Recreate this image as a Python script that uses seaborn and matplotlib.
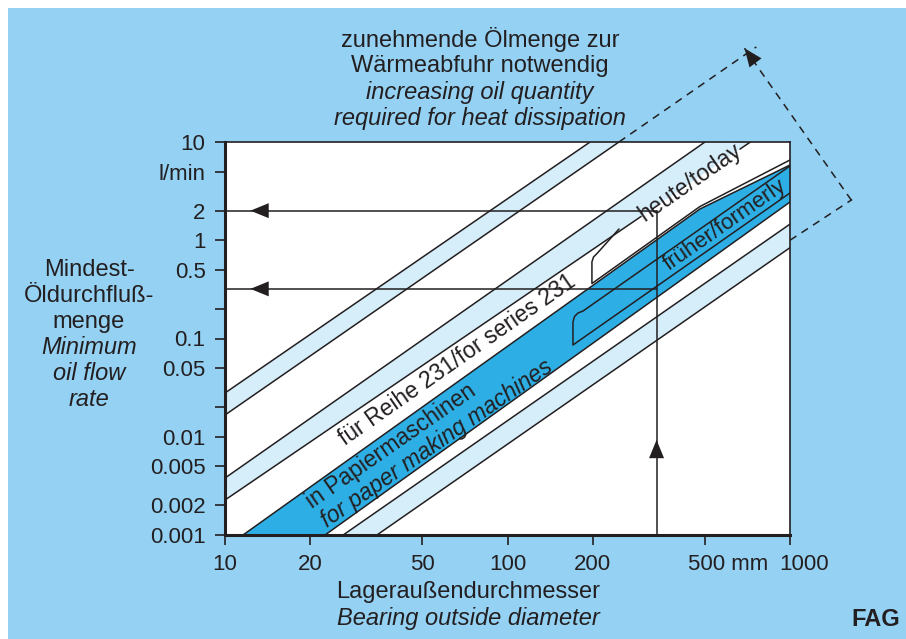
import numpy as np
import pandas as pd
import matplotlib
matplotlib.use("Agg")
import matplotlib.pyplot as plt
import seaborn as sns
from matplotlib.patches import Rectangle
from matplotlib.transforms import ScaledTranslation

# ---- data -------------------------------------------------------------
# Band edges as (bearing outside diameter D in mm, oil flow Q in l/min) points;
# every edge is straight on the log-log grid (Q roughly ~ D^2).
a_upper_d, a_upper_q = [10, 196], [0.0279, 10.0]
a_lower_d, a_lower_q = [10, 248], [0.01665, 10.0]
b_upper_d, b_upper_q = [10, 500], [0.0038, 10.0]
b_lower_d, b_lower_q = [10, 724], [0.00227, 10.0]
c_upper_d, c_upper_q = [26.2, 1000], [0.001, 1.46]
c_lower_d, c_lower_q = [34.5, 1000], [0.001, 0.84]
# paper machine band (dark); its upper edge flattens above D = 480 mm
p_upper_d, p_upper_q = [11.58, 480, 1000], [0.001, 2.08, 5.83]
p_lower_d, p_lower_q = [22.6, 1000], [0.001, 2.45]

# "heute/today" bracket (series 231, D >= 200 mm)
today_d = [1000, 480, 199, 199, 201.6, 207.4, 248.1]
today_q = [6.56, 2.205, 0.3628, 0.6006, 0.6753, 0.7329, 1.302]
# "früher/formerly" frame inside the paper machine band (D >= 170 mm)
former_d = [1000, 170.5, 170.5, 172.7, 177.7, 185.1, 1000]
former_q = [3.03, 0.0859, 0.1472, 0.1675, 0.1818, 0.1905, 5.70]
# span of the "heute/today" label on the lower edge of band B
today_label_d = [297, 665]

# example read-off: bearing diameter and the two flow rates
example_d = 337
example_q = [2.0, 0.32]

# dashed guide outside the frame and the "increasing" arrow
guide_upper_d, guide_upper_q = [248, 760], [10.0, 92.9]
guide_lower_d, guide_lower_q = [1000, 1660], [1.0, 2.6]
guide_arrow_d, guide_arrow_q = [1650, 690], [2.55, 90.0]

x_ticks = [10, 20, 50, 100, 200, 500, 1000]
x_tick_labels = ["10", "20", "50", "100", "200", "500 mm", "1000"]
y_ticks = [10, 5, 2, 1, 0.5, 0.2, 0.1, 0.05, 0.02, 0.01, 0.005, 0.002, 0.001]
y_tick_labels = ["10", "l/min", "2", "1", "0.5", "", "0.1", "0.05", "",
                 "0.01", "0.005", "0.002", "0.001"]

PANEL = "#94D1F3"
LIGHT = "#D6EDFA"
DARK = "#2DAFE6"
INK = "#231F20"

# ---- style ------------------------------------------------------------
sns.set_theme(style="white")
plt.rcParams["font.family"] = ["Liberation Sans", "DejaVu Sans"]
plt.rcParams["text.color"] = INK

W, H = 906, 639
fig = plt.figure(figsize=(W / 100, H / 100), dpi=100, facecolor="white")
fig.patches.append(Rectangle((8 / W, 0), 1, (H - 8) / H, transform=fig.transFigure,
                             facecolor=PANEL, edgecolor="none", zorder=-5))

ax = fig.add_axes([225 / W, 1 - 535 / H, 565 / W, 393 / H])
ax.set_zorder(2)
ax.set_facecolor("white")
ax.set_xscale("log")
ax.set_yscale("log")
ax.set_xlim(10, 1000)
ax.set_ylim(0.001, 10)


def band(ud, uq, ld, lq, color):
    """Fill the area between an upper and a lower edge."""
    ax.fill(list(ud) + list(ld)[::-1], list(uq) + list(lq)[::-1],
            color=color, lw=0, zorder=1)


band(a_upper_d, a_upper_q, a_lower_d, a_lower_q, LIGHT)
band(b_upper_d, b_upper_q, b_lower_d, b_lower_q, LIGHT)
band(c_upper_d, c_upper_q, c_lower_d, c_lower_q, LIGHT)
band(p_upper_d, p_upper_q, p_lower_d, p_lower_q, DARK)


def on_edge(d, ed, eq):
    """Flow on a straight (log-log) edge at diameter d."""
    t = (np.log10(d) - np.log10(ed[0])) / (np.log10(ed[1]) - np.log10(ed[0]))
    return 10 ** (np.log10(eq[0]) + t * (np.log10(eq[1]) - np.log10(eq[0])))


# lower edge of band B is interrupted by the "heute/today" label
g0, g1 = today_label_d
b_low_left = ([b_lower_d[0], g0], [b_lower_q[0], on_edge(g0, b_lower_d, b_lower_q)])
b_low_right = ([g1, b_lower_d[1]], [on_edge(g1, b_lower_d, b_lower_q), b_lower_q[1]])

edge_list = {
    "A_upper": (a_upper_d, a_upper_q), "A_lower": (a_lower_d, a_lower_q),
    "B_upper": (b_upper_d, b_upper_q), "B_lower_1": b_low_left, "B_lower_2": b_low_right,
    "P_upper": (p_upper_d, p_upper_q), "P_lower": (p_lower_d, p_lower_q),
    "C_upper": (c_upper_d, c_upper_q), "C_lower": (c_lower_d, c_lower_q),
    "today": (today_d, today_q), "former": (former_d, former_q),
}
rows = []
for name, (ds, qs) in edge_list.items():
    for i, (d, q) in enumerate(zip(ds, qs)):
        rows.append({"D": d, "Q": q, "edge": name, "i": i})
df = pd.DataFrame(rows)
sns.lineplot(data=df, x="D", y="Q", units="edge", estimator=None, sort=False,
             color=INK, lw=1.1, ax=ax, zorder=3, legend=False)

# example read-off lines
head_style = "-|>,head_length=1.1,head_width=0.45"
ax.plot([example_d, example_d], [0.001, example_q[0]], color=INK, lw=1.1, zorder=4)
for q in example_q:
    ax.plot([10, example_d], [q, q], color=INK, lw=1.1, zorder=4)
    ax.annotate("", xy=(12.3, q), xytext=(14.6, q),
                arrowprops=dict(arrowstyle=head_style, color=INK, lw=0,
                                shrinkA=0, shrinkB=0), zorder=5)
ax.annotate("", xy=(example_d, 0.0093), xytext=(example_d, 0.0065),
            arrowprops=dict(arrowstyle=head_style, color=INK, lw=0,
                            shrinkA=0, shrinkB=0), zorder=5)

# dashed guide beyond the frame
dash = dict(color=INK, lw=1.1, ls=(0, (5, 4)), clip_on=False, zorder=6)
ax.plot(guide_upper_d, guide_upper_q, **dash)
ax.plot(guide_lower_d, guide_lower_q, **dash)
ax.plot(guide_arrow_d, guide_arrow_q, **dash)
ax.annotate("", xy=(guide_arrow_d[1], guide_arrow_q[1]),
            xytext=(guide_arrow_d[1] * 1.09, guide_arrow_q[1] * 0.72),
            arrowprops=dict(arrowstyle=head_style, color=INK, lw=0, shrinkA=0, shrinkB=0),
            annotation_clip=False, zorder=6)

# axes styling
ax.set_xticks(x_ticks)
ax.set_xticklabels(x_tick_labels)
ax.set_yticks(y_ticks)
ax.set_yticklabels(y_tick_labels)
ax.minorticks_off()
ax.set_xlabel("")
ax.set_ylabel("")
ax.tick_params(axis="both", which="major", direction="out", length=7, width=1.2,
               color=INK, labelsize=16, labelcolor=INK, left=True, bottom=True)
ax.tick_params(axis="x", pad=7)
ax.tick_params(axis="y", pad=7)
for s in ["left", "bottom"]:
    ax.spines[s].set_linewidth(2.2)
for s in ["top", "right"]:
    ax.spines[s].set_linewidth(1.2)
for s in ax.spines.values():
    s.set_color(INK)
    s.set_visible(True)
ax.grid(False)

# "500 mm" keeps its number on the tick, "1000" sits a little to the right
for lbl, dx in zip(ax.get_xticklabels(), [0, 0, 0, 0, 0, 23, 14]):
    lbl.set_transform(lbl.get_transform() + ScaledTranslation(dx / 100, 0, fig.dpi_scale_trans))

# slope angle of the band edges on screen
fig.canvas.draw()
p0 = ax.transData.transform((10, 0.001))
p1 = ax.transData.transform((100, 0.1))
ang = np.degrees(np.arctan2(p1[1] - p0[1], p1[0] - p0[0]))

# band labels (positions are baseline midpoints)
lab = dict(rotation=ang, rotation_mode="anchor", ha="center", va="baseline",
           fontsize=16.5, zorder=6)
ax.text(68.4, 0.0537, "für Reihe 231/for series 231", **lab)
ax.text(40.0, 0.0070, "in Papiermaschinen", **lab)
ax.text(58.2, 0.0075, "for paper making machines", style="italic", **lab)

# "früher/formerly" centred between the frame lines
fd = 590
f_lo = on_edge(fd, former_d[1::-1], former_q[1::-1])
f_hi = on_edge(fd, former_d[5:], former_q[5:])
ax.text(fd, np.sqrt(f_lo * f_hi), "früher/formerly", rotation=ang, rotation_mode="anchor",
        ha="center", va="center", fontsize=16, zorder=6)

mid = np.sqrt(today_label_d[0] * today_label_d[1])
ax.text(mid, on_edge(mid, b_lower_d, b_lower_q), "heute/today", rotation=ang,
        rotation_mode="anchor", ha="center", va="center", fontsize=16.5, zorder=6)

# axis titles
fig.text(468 / W, 1 - 592 / H, "Lageraußendurchmesser", ha="center", va="center", fontsize=17)
fig.text(468 / W, 1 - 619 / H, "Bearing outside diameter", ha="center", va="center",
         fontsize=17, style="italic")
ylab = [("Mindest-", "normal"), ("Öldurchfluß-", "normal"), ("menge", "normal"),
        ("Minimum", "italic"), ("oil flow", "italic"), ("rate", "italic")]
for i, (t, st) in enumerate(ylab):
    fig.text(89 / W, 1 - (270 + 26 * i) / H, t, ha="center", va="center", fontsize=17, style=st)

head = [("zunehmende Ölmenge zur", "normal"), ("Wärmeabfuhr notwendig", "normal"),
        ("increasing oil quantity", "italic"), ("required for heat dissipation", "italic")]
for i, (t, st) in enumerate(head):
    fig.text(480 / W, 1 - (40 + 26 * i) / H, t, ha="center", va="center", fontsize=17, style=st)

fig.text(900 / W, 1 - 620 / H, "FAG", ha="right", va="center", fontsize=17, weight="bold")

fig.savefig("out.png", dpi=100, facecolor=fig.get_facecolor())
